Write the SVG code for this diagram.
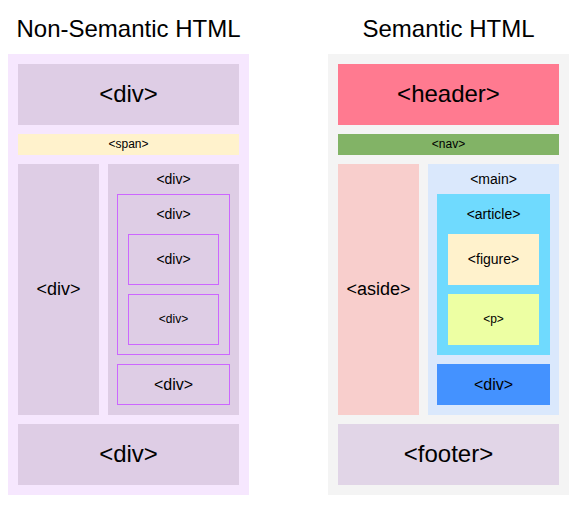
<svg xmlns="http://www.w3.org/2000/svg" width="586" height="506" viewBox="0 0 586 506">
<style>
text{font-family:"Liberation Sans",Arial,sans-serif;fill:#000;text-anchor:middle}
.t24{font-size:24px}.t18{font-size:18px}.t16{font-size:16px}.t14{font-size:14px}.t12{font-size:12px}
.nd{fill:#decde5}
.bd{fill:none;stroke:#cc66ff;stroke-width:1}
</style>
<rect width="586" height="506" fill="#ffffff"/>
<text class="t24" x="128.5" y="37">Non-Semantic HTML</text>
<text class="t24" x="448.5" y="37">Semantic HTML</text>

<g id="left-panel">
<rect x="8" y="54" width="241" height="441" fill="#f6e7fe"/>
</g>
<g id="left-top-div"><rect class="nd" x="18" y="64" width="221" height="61"/><text class="t24" x="128.5" y="102">&lt;div&gt;</text></g>
<g id="left-span"><rect x="18" y="134" width="221" height="21" fill="#fff2cc"/><text class="t12" x="128.5" y="148">&lt;span&gt;</text></g>
<g id="left-col-div"><rect class="nd" x="18" y="164" width="81" height="251"/><text class="t18" x="58.5" y="295">&lt;div&gt;</text></g>
<g id="left-main-div"><rect class="nd" x="108" y="164" width="131" height="251"/><text class="t14" x="173.5" y="183.5">&lt;div&gt;</text></g>
<g id="left-article-div"><rect class="bd" x="117.5" y="194.5" width="112" height="160"/><text class="t14" x="173.5" y="218.5">&lt;div&gt;</text></g>
<g id="left-figure-div"><rect class="bd" x="128.5" y="234.5" width="90" height="50"/><text class="t14" x="173.5" y="263.5">&lt;div&gt;</text></g>
<g id="left-p-div"><rect class="bd" x="128.5" y="294.5" width="90" height="50"/><text class="t12" x="173.5" y="323">&lt;div&gt;</text></g>
<g id="left-inner-div"><rect class="bd" x="117.5" y="364.5" width="112" height="40"/><text class="t16" x="173.5" y="389.5">&lt;div&gt;</text></g>
<g id="left-bottom-div"><rect class="nd" x="18" y="424" width="221" height="61"/><text class="t24" x="128.5" y="461.5">&lt;div&gt;</text></g>

<g id="right-panel">
<rect x="328" y="54" width="241" height="441" fill="#f4f4f4"/>
</g>
<g id="header"><rect x="338" y="64" width="221" height="61" fill="#ff7a90"/><text class="t24" x="448.5" y="102">&lt;header&gt;</text></g>
<g id="nav"><rect x="338" y="134" width="221" height="21" fill="#82b366"/><text class="t12" x="448.5" y="148">&lt;nav&gt;</text></g>
<g id="aside"><rect x="338" y="164" width="81" height="251" fill="#f8cecc"/><text class="t18" x="378.5" y="295">&lt;aside&gt;</text></g>
<g id="main"><rect x="428" y="164" width="131" height="251" fill="#dae8fc"/><text class="t14" x="493.5" y="183.5">&lt;main&gt;</text></g>
<g id="article"><rect x="437" y="194" width="113" height="161" fill="#6fdafe"/><text class="t14" x="493.5" y="218.5">&lt;article&gt;</text></g>
<g id="figure"><rect x="448" y="234" width="91" height="51" fill="#fff2cc"/><text class="t14" x="493.5" y="263.5">&lt;figure&gt;</text></g>
<g id="p"><rect x="448" y="294" width="91" height="51" fill="#edffa3"/><text class="t12" x="493.5" y="323">&lt;p&gt;</text></g>
<g id="div"><rect x="437" y="364" width="113" height="41" fill="#4492ff"/><text class="t16" x="493.5" y="389.5">&lt;div&gt;</text></g>
<g id="footer"><rect x="338" y="424" width="221" height="61" fill="#e1d5e7"/><text class="t24" x="448.5" y="461.5">&lt;footer&gt;</text></g>
<g id="connectors"/>
</svg>
